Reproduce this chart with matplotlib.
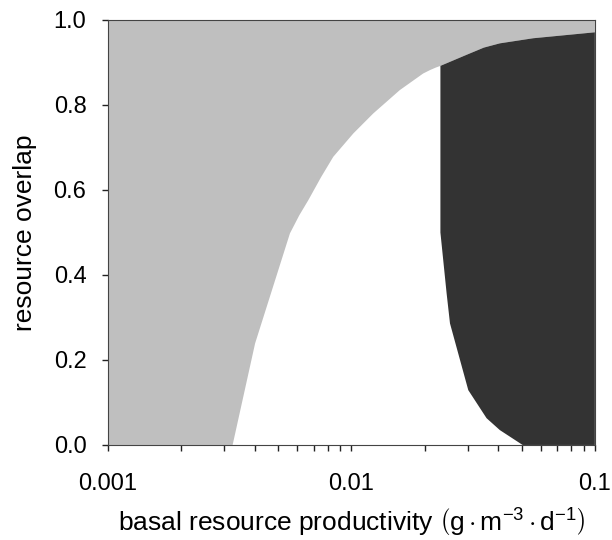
import matplotlib
matplotlib.use("Agg")
import matplotlib.pyplot as plt
import numpy as np

plt.rcParams['font.family'] = ['Liberation Sans', 'DejaVu Sans']
plt.rcParams['mathtext.fontset'] = 'custom'
plt.rcParams['mathtext.rm'] = 'Liberation Sans'
plt.rcParams['mathtext.it'] = 'Liberation Sans:italic'
plt.rcParams['mathtext.bf'] = 'Liberation Sans:bold'

# boundary of the light grey region (left edge of the white region)
grey_x = [0.00325, 0.00402, 0.00559, 0.00610, 0.00665, 0.00750, 0.00842, 0.01018, 0.01229, 0.0158, 0.0197, 0.0210, 0.0222, 0.0232]
grey_y = [0.0, 0.239, 0.498, 0.540, 0.576, 0.630, 0.678, 0.733, 0.780, 0.835, 0.874, 0.882, 0.888, 0.892]

# upper edge of the dark region
top_x = [0.0232, 0.0297, 0.0350, 0.0407, 0.0558, 0.1]
top_y = [0.892, 0.918, 0.935, 0.945, 0.957, 0.971]

# left edge of the dark region (from top down to the x axis)
dark_x = [0.0232, 0.0232, 0.0246, 0.0254, 0.0302, 0.0359, 0.0407, 0.0505]
dark_y = [0.892, 0.500, 0.357, 0.286, 0.129, 0.063, 0.035, 0.0]

light = '#bfbfbf'
dark = '#333333'

fig = plt.figure(figsize=(6.12, 5.4), dpi=100)
ax = fig.add_axes([0.1765, 0.176, 0.7955, 0.787])
ax.set_xscale('log')

# light grey polygon: left side, along boundary, along dark top, up to 1
gx = [0.001] + grey_x + top_x[1:] + [0.1, 0.001]
gy = [0.0] + grey_y + top_y[1:] + [1.0, 1.0]
ax.fill(gx, gy, color=light, lw=0)

# dark polygon
dx = top_x + [0.1] + dark_x[::-1]
dy = top_y + [0.0] + dark_y[::-1]
ax.fill(dx, dy, color=dark, lw=0)

ax.set_xlim(0.001, 0.1)
ax.set_ylim(0, 1)
ax.set_xticks([0.001, 0.01, 0.1])
ax.set_xticklabels(['0.001', '0.01', '0.1'])
ax.set_yticks(np.arange(0, 1.01, 0.2))
ax.set_yticklabels(['0.0', '0.2', '0.4', '0.6', '0.8', '1.0'])

ax.tick_params(which='both', direction='out', length=4.5, width=1, labelsize=17, color='#222222')
ax.tick_params(axis='x', pad=16)
ax.tick_params(axis='y', pad=11)
for s in ax.spines.values():
    s.set_linewidth(0.8)
    s.set_color('#444444')

ax.set_ylabel('resource overlap', fontsize=19, labelpad=12)
ax.set_xlabel(r'basal resource productivity $\left(\mathrm{g \cdot m^{-3} \cdot d^{-1}}\right)$',
              fontsize=19, labelpad=8)

fig.savefig('out.png', dpi=100)
